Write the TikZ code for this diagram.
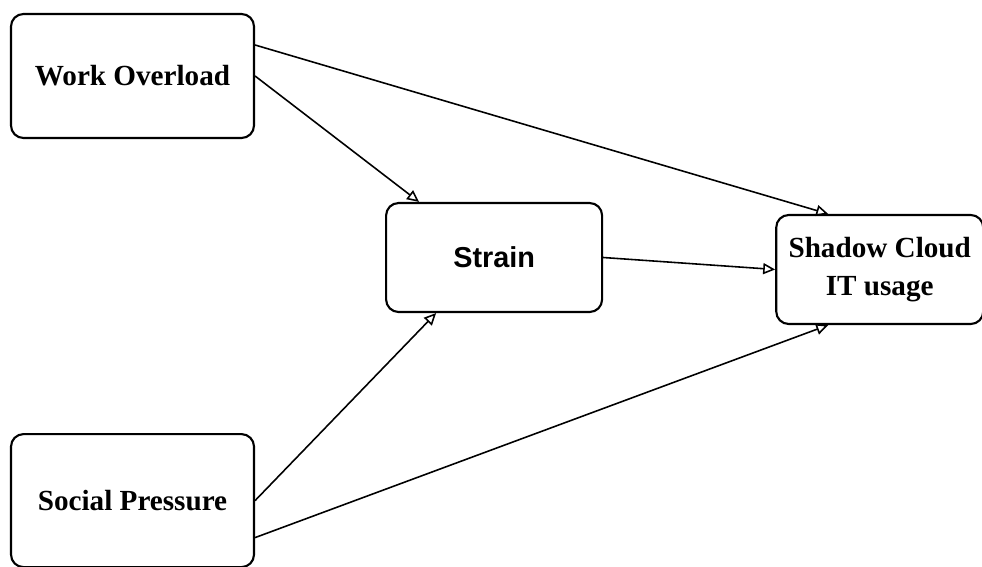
\documentclass[tikz,border=0pt]{standalone}
\usepackage{fontspec}
\setmainfont{Liberation Serif}
\setsansfont{Liberation Sans}
\usepackage{tikz}
\usetikzlibrary{arrows.meta, positioning}

\begin{document}
\begin{tikzpicture}[node distance=2cm]
	\tikzstyle{factor} = [rectangle, rounded corners=0.25cm, text centered, 
	draw=black, line width=1.2pt, fill=white, font=\fontsize{16.6}{21.6}\selectfont\bfseries, 
	align=center]
	\tikzstyle{arrow} = [line width=0.9pt, -{Triangle[open, length=2.4mm, width=2.2mm]}]
	\useasboundingbox (0,0) rectangle (19.64,-11.32);
	\node (overload) [factor, minimum width=4.86cm, minimum height=2.48cm] at (2.65,-1.52) {Work Overload};
	\node (pressure) [factor, minimum width=4.86cm, minimum height=2.66cm, below=5.88cm of overload] {Social Pressure};
	\node (strain) [factor, minimum width=4.32cm, minimum height=2.18cm, right=2.6cm of overload, yshift=-3.63cm, font=\fontsize{16.4}{20}\selectfont\sffamily\bfseries] {Strain};
	\node (shadow) [factor, minimum width=4.14cm, minimum height=2.18cm, right=3.44cm of strain, yshift=-0.24cm] {Shadow Cloud\\IT usage};
	\draw [arrow] ([yshift=0.62cm]overload.east) -- ([xshift=-1.03cm]shadow.north);
	\draw [arrow] (overload.east) -- ([xshift=-1.5cm]strain.north);
	\draw [arrow] (strain.east) -- (shadow.west);
	\draw [arrow] (pressure.east) -- ([xshift=-1.16cm]strain.south);
	\draw [arrow] ([yshift=-0.74cm]pressure.east) -- ([xshift=-1.03cm]shadow.south);
\end{tikzpicture}
\end{document}
